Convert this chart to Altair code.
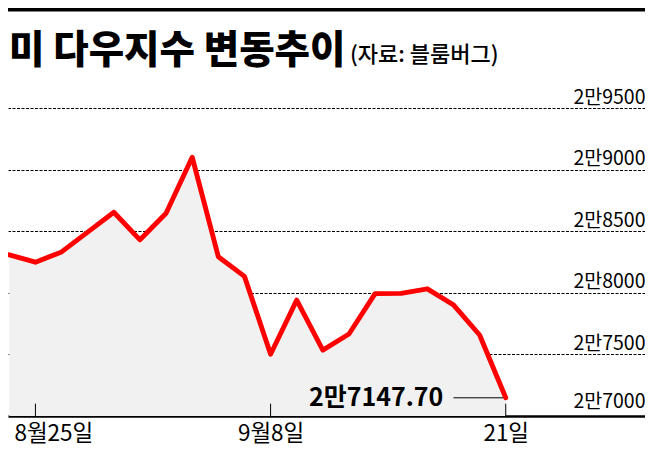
import altair as alt
import pandas as pd

# ---- data (Dow Jones closes) ----
DATES = ["8/24", "8/25", "8/26", "8/27", "8/28", "8/31", "9/1", "9/2", "9/3", "9/4",
         "9/8", "9/9", "9/10", "9/11", "9/14", "9/15", "9/16", "9/17", "9/18", "9/21"]
CLOSES = [28308.46, 28248.44, 28331.92, 28492.27, 28653.87, 28430.05, 28645.66, 29100.50,
          28292.73, 28133.31, 27500.89, 27940.47, 27534.58, 27665.64, 27993.33, 27995.60,
          28032.38, 27901.98, 27657.42, 27147.70]
X_LABEL_DATES = ["8/25", "9/8", "9/21"]
X_LABELS = ["8월25일", "9월8일", "21일"]
Y_TICKS = [27000, 27500, 28000, 28500, 29000, 29500]
TITLE = "미 다우지수 변동추이"
SOURCE = "(자료: 블룸버그)"

FONT = "Noto Sans CJK KR"
W, H = 637, 308

df = pd.DataFrame({"date": DATES, "close": CLOSES})
df["i"] = range(len(df))
base_val = Y_TICKS[0]

tick_idx = [DATES.index(d) for d in X_LABEL_DATES]
ticks_df = pd.DataFrame({"i": tick_idx, "close": [base_val] * len(tick_idx),
                         "y1": [base_val + 100] * len(tick_idx)})

label_expr = "''"
for idx, lab in zip(reversed(tick_idx), reversed(X_LABELS)):
    label_expr = f"datum.value == {idx} ? '{lab}' : ({label_expr})"

last_i = len(df) - 1
last_v = CLOSES[-1]
annot_df = pd.DataFrame({
    "xt": [last_i - 2.39], "i": [last_i - 2.0], "x1": [last_i - 0.1],
    "close": [last_v], "label": ["2만" + f"{last_v - 20000:.2f}"],
})

x_scale = alt.Scale(domain=[-0.05, 24.33], nice=False, zero=False)
y_scale = alt.Scale(domain=[Y_TICKS[0], Y_TICKS[-1]], nice=False, zero=False)

x_axis = alt.Axis(
    values=tick_idx, labelExpr=label_expr, title=None, grid=False,
    ticks=False, domain=True, domainColor="black", domainWidth=2.5,
    labelFont=FONT, labelFontSize=22.5, labelColor="black", labelPadding=6,
    labelFlush=40, labelFlushOffset=21.5,
)
y_axis = alt.Axis(
    orient="right", values=Y_TICKS, title=None, domain=False, ticks=False, tickSize=0,
    labelAlign="right", labelPadding=0, labelOffset=-5,
    labelBaseline={"condition": {"test": f"datum.value == {base_val}", "value": "bottom"},
                   "value": "alphabetic"},
    labelFont=FONT, labelFontSize=19.5, labelColor="black",
    labelExpr="'2만' + (datum.value - 20000)",
    grid=True, gridColor="black", gridWidth=1, gridDash=[3, 1.5],
    gridOpacity={"condition": {"test": f"datum.value == {base_val}", "value": 0}, "value": 1},
)

X = alt.X("i:Q", scale=x_scale, axis=x_axis)
Y = alt.Y("close:Q", scale=y_scale, axis=y_axis)

area = alt.Chart(df).mark_area(color="#f1f1f1").encode(
    x=X, y=Y, y2=alt.datum(base_val),
)
line = alt.Chart(df).mark_line(color="#ff0000", strokeWidth=4.9, strokeJoin="round",
                               strokeCap="round").encode(x=X, y=Y)
ticks = alt.Chart(ticks_df).mark_rule(color="black", strokeWidth=1).encode(
    x=X, y=Y, y2="y1:Q",
)
annot_line = alt.Chart(annot_df).mark_rule(color="black", strokeWidth=1).encode(
    x=X, x2="x1:Q", y=Y,
)
annot_text = alt.Chart(annot_df).mark_text(
    align="right", baseline="alphabetic", dy=8, font=FONT, fontSize=25,
    fontWeight="bold", color="black",
).encode(
    x=alt.X("xt:Q", scale=x_scale, axis=x_axis),
    y=Y,
    text="label:N",
)

title = alt.Chart(pd.DataFrame({"t": [TITLE]})).mark_text(
    align="left", baseline="alphabetic", font=FONT, fontSize=38.5, fontWeight=900, color="black",
).encode(text="t:N", x=alt.value(1), y=alt.value(-45))
source = alt.Chart(pd.DataFrame({"t": [SOURCE]})).mark_text(
    align="left", baseline="alphabetic", font=FONT, fontSize=22, fontWeight=500, color="black",
).encode(text="t:N", x=alt.value(342), y=alt.value(-46))
top_bar = alt.Chart(pd.DataFrame({"a": [0]})).mark_rule(color="black", strokeWidth=3.5).encode(
    x=alt.value(0), x2=alt.value(W), y=alt.value(-98.2))

chart = alt.layer(area, line, ticks, annot_line, annot_text, title, source, top_bar).properties(
    width=W, height=H,
    padding={"top": 100, "bottom": 32, "left": 0, "right": 0},
    autosize=alt.AutoSizeParams(type="none"),
    background="white",
).configure_view(stroke=None)

chart.save("out.html", embed_options={"renderer": "svg", "actions": False})
